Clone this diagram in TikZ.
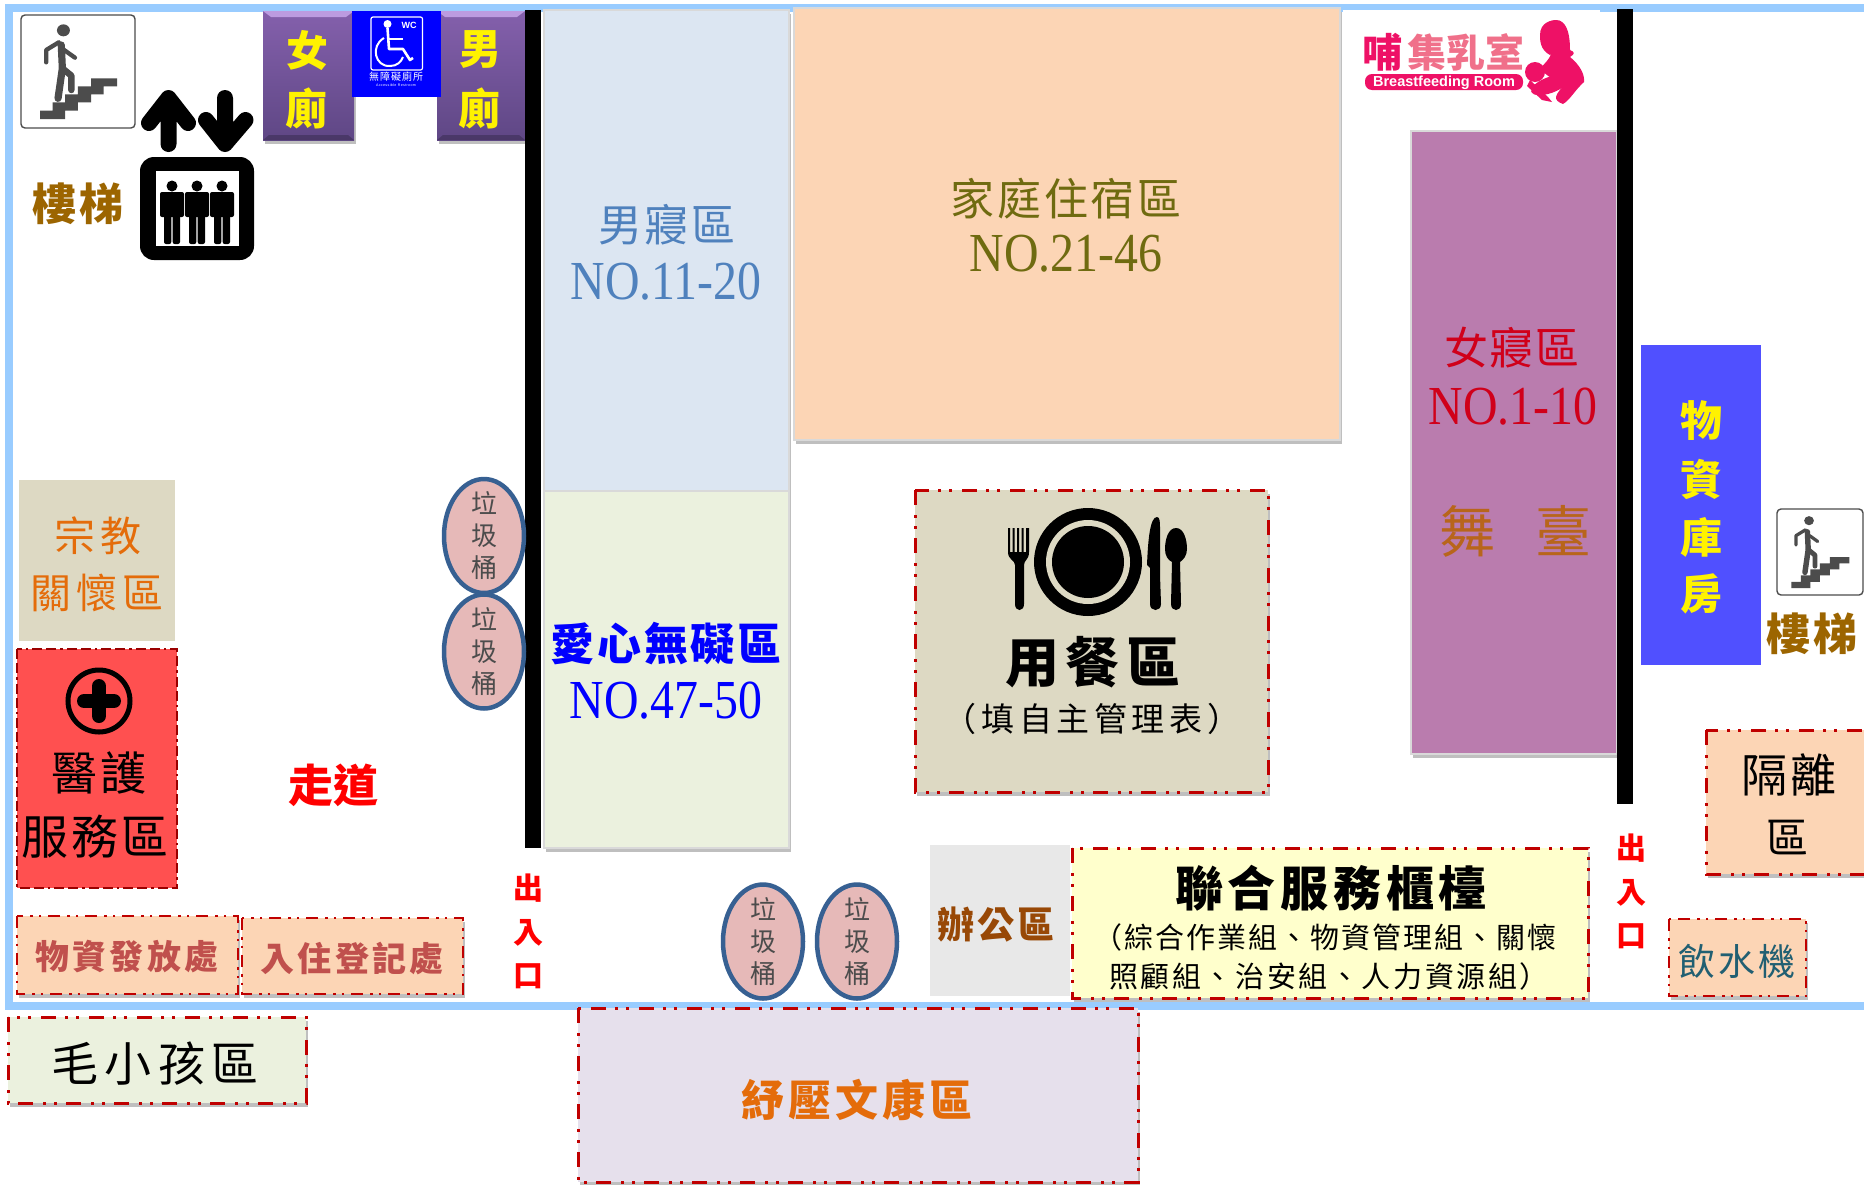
\documentclass[tikz,border=0pt]{standalone}
\usepackage{fontspec}
\usetikzlibrary{shadows,shapes.geometric}
\setmainfont{Noto Sans CJK TC}
\newfontfamily\narrowfont[FakeStretch=0.87]{Liberation Serif}
\newfontfamily\latinfont{Liberation Sans}
\newcommand{\fsz}[1]{\fontsize{#1}{#1}\selectfont}
\newcommand{\lsp}[1]{\addfontfeature{LetterSpace=#1}}
\definecolor{framec}{HTML}{99CCFF}
\definecolor{peach}{HTML}{FCD5B5}
\definecolor{tanc}{HTML}{DDD9C3}
\definecolor{pale}{HTML}{EBF1DE}
\definecolor{binfill}{HTML}{E6B9B8}
\definecolor{binline}{HTML}{376092}
\definecolor{dashred}{HTML}{C00000}
\definecolor{stairtxt}{HTML}{9C6500}
\definecolor{orangetxt}{HTML}{E46C0A}
\definecolor{pinkc}{HTML}{EE1166}
\definecolor{pinkl}{HTML}{F0708A}
\definecolor{purptop}{HTML}{8460AC}
\definecolor{purpbot}{HTML}{5F4785}
\definecolor{purplight}{HTML}{BC9BE0}
\definecolor{zoneb}{HTML}{DCE6F2}
\definecolor{dorm}{HTML}{BA7CAE}
\definecolor{stor}{HTML}{5050FF}
\definecolor{txblue}{HTML}{4F81BD}
\definecolor{olive2}{HTML}{6F6B10}
\definecolor{wred}{HTML}{D0001A}
\definecolor{stagec}{HTML}{B8651B}
\definecolor{medc}{HTML}{FF5050}
\definecolor{tred}{HTML}{C0504D}
\definecolor{lilac}{HTML}{E6E0EC}
\definecolor{offc}{HTML}{984806}
\definecolor{cream}{HTML}{FFFFCC}
\definecolor{tealc}{HTML}{215F72}
\tikzset{
  lab/.style={inner sep=0pt,outer sep=0pt,align=center},
  softshadow/.style={drop shadow={shadow xshift=1.5pt,shadow yshift=-3.5pt,opacity=.25,fill=black}},
  flat/.style={fill=#1,draw=white!85!black,line width=1.5pt,softshadow},
  dashbox/.style={fill=#1,draw=dashred,line width=3pt,softshadow,
    dash pattern=on 15pt off 10pt on 3pt off 8pt on 3pt off 9pt},
  dashsmall/.style={fill=#1,draw=dashred,line width=2.6pt,softshadow,
    dash pattern=on 12pt off 7pt on 2.5pt off 6pt on 2.5pt off 7pt},
  bin/.style={ellipse,draw=binline,fill=binfill,line width=4.5pt,minimum width=80pt,minimum height=114pt,
    inner xsep=0pt,inner ysep=-15pt,align=center,font=\fontsize{26}{32}\selectfont,text=black!70},
  wall/.style={fill=black,draw=none},
}
% stair pictogram: w,h are the outer sizes of the sign
\newcommand{\stairicon}[4]{%
\begin{scope}[shift={(#1,#2)},x=#3pt/317,y={-#4pt/339}]
\draw[rounded corners=4pt,fill=white,draw=black!70,line width=1.4pt] (0,0) rectangle (317,339);
\fill[black!70] (53,312)--(123,312)--(123,287)--(158,287)--(158,262)--(195,262)--(195,238)--(230,238)--(230,214)--(267,214)--(267,190)--(195,190)--(195,214)--(158,214)--(158,238)--(123,238)--(123,262)--(88,262)--(88,287)--(53,287)--cycle;
\fill[black!70] (118,46) ellipse [x radius=18,y radius=18];
\draw[black!70,line width=#3pt/317*20,line cap=round,line join=round] (112,90)--(115,160)--(103,250);
\draw[black!70,line width=#3pt/317*18,line cap=round,line join=round] (115,160)--(140,182)--(140,225);
\draw[black!70,line width=#3pt/317*12,line cap=round,line join=round] (105,82)--(70,105)--(70,142);
\draw[black!70,line width=#3pt/317*12,line cap=round,line join=round] (120,105)--(150,128);
\end{scope}}
\newcommand{\personicon}[1]{%
\fill (#1,186) circle (5.5);
\fill[rounded corners=2pt] (#1-12,192) rectangle (#1+12,217);
\fill[rounded corners=2pt] (#1-8,210) rectangle (#1-0.7,244);
\fill[rounded corners=2pt] (#1+0.7,210) rectangle (#1+8,244);}
\begin{document}
\begin{tikzpicture}[x=1pt,y=-1pt]
\useasboundingbox (0,0) rectangle (1864,1184);
\fill[white] (0,0) rectangle (1864,1184);
% outer frame
\fill[framec] (5,4) rectangle (1864,12);
\fill[framec] (5,4) rectangle (13,1010);
\fill[framec] (5,1002) rectangle (1864,1010);
% stairs, elevator
\stairicon{21}{15}{114}{113}
\stairicon{1777}{509}{86}{86}
\node[lab,text=stairtxt,font=\fsz{44}\bfseries\lsp{5}] (stairL) at (78,204) {樓梯};
\node[lab,text=stairtxt,font=\fsz{44}\bfseries\lsp{5}] (stairR) at (1812,634) {樓梯};
\draw[line width=16pt,line cap=round,line join=round] (168.5,144)--(168.5,98) (149,123)--(168.5,98)--(188,123);
\draw[line width=16pt,line cap=round,line join=round] (225,98)--(225,144) (206,120)--(225,144)--(245.5,120);
\fill[rounded corners=14pt] (140,157) rectangle (254,260);
\fill[white] (156,171) rectangle (238.5,246);
\personicon{172}\personicon{197}\personicon{222}
% toilets
\begin{scope}
\fill[top color=purptop,bottom color=purpbot,softshadow] (263,11) rectangle (354,140);
\fill[top color=purptop,bottom color=purpbot,softshadow] (437,11) rectangle (525,140);
\fill[purplight] (263,11)--(354,11)--(346,17)--(271,17)--cycle;
\fill[purplight] (437,11)--(525,11)--(517,17)--(445,17)--cycle;
\fill[black,opacity=.22] (263,140)--(354,140)--(348,135)--(269,135)--cycle;
\fill[black,opacity=.22] (437,140)--(525,140)--(519,135)--(443,135)--cycle;
\end{scope}
\fill[blue] (352,11) rectangle (441,97);
\draw[white,line width=1.2pt,rounded corners=2pt] (371,17) rectangle (422.5,70);
\fill[white] (387.5,24) circle (4);
\draw[white,line width=2.6pt,line join=round] (387.5,28)--(389,49)--(403,49)--(410,60)--(413,58);
\draw[white,line width=2pt] (389,39)--(403,39);
\draw[white,line width=2pt] (384,38) .. controls (370,46) and (375,67) .. (390,66) .. controls (397,66) and (401,62) .. (403,57);
\node[lab,text=white,font=\latinfont\fsz{9}\bfseries] (wcmark) at (409,25) {WC};
\node[lab,text=white,font=\fsz{10}\lsp{10}] (acc1) at (396,77) {無障礙廁所};
\node[lab,text=white,font=\latinfont\fsz{3.6}\lsp{10}] (acc2) at (396,85) {Accessible Restroom};
\node[lab,text=yellow,font=\fsz{42}\bfseries] (w1) at (307,50) {女};
\node[lab,text=yellow,font=\fsz{42}\bfseries] (w2) at (306,108) {廁};
\node[lab,text=yellow,font=\fsz{42}\bfseries] (m1) at (480,50) {男};
\node[lab,text=yellow,font=\fsz{42}\bfseries] (m2) at (479,108) {廁};
% main zones
\filldraw[flat=zoneb] (544,10) rectangle (789,491);
\filldraw[flat=pale] (544,491) rectangle (789,848);
\filldraw[flat=peach] (794,8) rectangle (1340,440);
\filldraw[flat=dorm] (1411,131) rectangle (1617,754);
\fill[wall] (525,10) rectangle (541,848);
\fill[wall] (1617,9) rectangle (1633,804);
\fill[stor] (1641,345) rectangle (1761,665);
% breastfeeding sign
\fill[white] (1343,10) rectangle (1600,112);
\node[lab,text=pinkc,font=\fsz{40}\bfseries] (bf0) at (1382,52) {哺};
\node[lab,text=pinkl,font=\fsz{39}\bfseries] (bf1) at (1466,52) {集乳室};
\fill[pinkc,rounded corners=7pt] (1365,74) rectangle (1523,90);
\node[lab,text=white,font=\latinfont\fsz{14.5}\bfseries] (bf2) at (1444,82.5) {Breastfeeding Room};
\fill[pinkc] (1540,35) .. controls (1540,22) and (1552,20) .. (1556,20) .. controls (1565,20) and (1570,30) .. (1570,50) .. controls (1575,52) and (1575,54) .. (1570,57) .. controls (1580,65) and (1585,75) .. (1584,82) .. controls (1575,90) and (1570,100) .. (1563,104) .. controls (1552,100) and (1555,95) .. (1565,84) .. controls (1555,80) and (1548,78) .. (1540,68) .. controls (1552,58) and (1552,50) .. (1550,55) .. controls (1540,50) and (1540,40) .. (1540,35) -- cycle;
\fill[pinkc] (1535,72) circle (10);
\fill[pinkc,rotate around={20:(1550,85)}] (1550,85) ellipse (20 and 8);
\fill[pinkc] (1530,80) -- (1548,97) -- (1552,102) -- (1542,100) -- (1527,86) -- cycle;
% zone labels
\node[lab,text=txblue,font=\fsz{44}\lsp{5}] (mt) at (667,225) {男寢區};
\node[lab,text=txblue,font=\narrowfont\fsz{55}] (mn) at (666,282) {NO.11-20};
\node[lab,text=olive2,font=\fsz{44}\lsp{6}] (ft) at (1066,199) {家庭住宿區};
\node[lab,text=olive2,font=\narrowfont\fsz{55}] (fn) at (1066,254) {NO.21-46};
\node[lab,text=wred,font=\fsz{44}\lsp{4}] (wt) at (1512,348) {女寢區};
\node[lab,text=wred,font=\narrowfont\fsz{55}] (wn) at (1513,407) {NO.1-10};
\node[lab,text=stagec,font=\fsz{56}] (s1) at (1467,531) {舞};
\node[lab,text=stagec,font=\fsz{56}] (s2) at (1563,531) {臺};
\node[lab,text=blue,font=\fsz{44}\bfseries\lsp{6}] (at) at (666,644) {愛心無礙區};
\node[lab,text=blue,font=\narrowfont\fsz{55}] (an) at (666,701) {NO.47-50};
\foreach \n/\t/\yy in {st1/物/421,st2/資/479,st3/庫/537,st4/房/594}{
  \node[lab,text=yellow,font=\fsz{42}\bfseries] (\n) at (1701,\yy) {\t};}
% left column
\fill[tanc] (19,480) rectangle (175,641);
\node[lab,text=orangetxt,font=\fsz{41}\lsp{12}] (r1) at (98,536) {宗教};
\node[lab,text=orangetxt,font=\fsz{41}\lsp{12}] (r2) at (97,593) {關懷區};
\filldraw[fill=medc,draw=dashred!80!black,line width=2.6pt,dash pattern=on 10pt off 4pt on 10pt off 4pt on 2.5pt off 4pt] (17,649) rectangle (177,888);
\draw[line width=5pt] (99,701) circle (31);
\draw[line width=14pt,line cap=round] (84,701)--(114,701) (99,686)--(99,716);
\node[lab,font=\fsz{46}\lsp{8}] (med1) at (99,773) {醫護};
\node[lab,font=\fsz{47}\lsp{6}] (med2) at (95,837) {服務區};
\node[lab,text=red,font=\fsz{45}\bfseries] (hall) at (333,785) {走道};
\filldraw[dashsmall=peach] (17,916) rectangle (238,994);
\filldraw[dashsmall=peach] (242,918) rectangle (463,994);
\node[lab,text=tred,font=\fsz{34}\bfseries\lsp{9}] (sup) at (127,957) {物資發放處};
\node[lab,text=tred,font=\fsz{34}\bfseries\lsp{9}] (reg) at (352,958) {入住登記處};
\filldraw[dashbox=pale] (8,1017) rectangle (306,1103);
\node[lab,font=\fsz{47}\lsp{14}] (pet) at (155,1064) {毛小孩區};
\filldraw[dashbox=lilac] (578,1008) rectangle (1138,1182);
\node[lab,text=orangetxt,font=\fsz{43}\bfseries\lsp{9}] (relax) at (857,1100) {紓壓文康區};
% bins
\node[bin] (bin1) at (484,536) {垃\\圾\\桶};
\node[bin] (bin2) at (484,651.5) {垃\\圾\\桶};
\node[bin] (bin3) at (763,941.5) {垃\\圾\\桶};
\node[bin] (bin4) at (857,941.5) {垃\\圾\\桶};
% dining
\filldraw[dashbox=tanc] (915,490) rectangle (1268,792);
\fill (1088,562) circle (54);
\fill[tanc] (1088,562) circle (42);
\fill (1088,562) circle (36);
\fill (1008,528) -- (1010,528) -- (1010,552) -- (1012.5,552) -- (1012.5,528) -- (1014.5,528) -- (1014.5,552) -- (1017,552) -- (1017,528) -- (1019,528) -- (1019,552) -- (1021.5,552) -- (1021.5,528) -- (1023.5,528) -- (1023.5,552) -- (1026,552) -- (1026,528) -- (1029,528) -- (1029,552) .. controls (1029,560) and (1024,560) .. (1024,565) -- (1024,604) .. controls (1024,612) and (1015,612) .. (1015,604) -- (1015,565) .. controls (1015,560) and (1008,560) .. (1008,552) -- cycle;
\fill (1160,575) -- (1161,604) .. controls (1161,612) and (1150,612) .. (1150,604) -- (1150,568) -- (1147,565) .. controls (1148,540) and (1150,517) .. (1157,517) .. controls (1160,517) and (1160,522) .. (1160,530) -- cycle;
\fill (1176,528) .. controls (1184,528) and (1187,540) .. (1187,549) .. controls (1187,556) and (1183,560) .. (1180,562) -- (1181,604) .. controls (1181,612) and (1171,612) .. (1171,604) -- (1172,562) .. controls (1168,560) and (1165,556) .. (1165,549) .. controls (1165,540) and (1168,528) .. (1176,528) -- cycle;
\node[lab,font=\fsz{54}\bfseries\lsp{12}] (din1) at (1093,662) {用餐區};
\node[lab,font=\fsz{33}\lsp{14}] (din2) at (1092,719) {（填自主管理表）};
% office and counter
\fill[black!9] (930,845) rectangle (1070,996);
\node[lab,text=offc,font=\fsz{37}\bfseries\lsp{8}] (off) at (996,925) {辦公區};
\filldraw[dashbox=cream] (1072,848) rectangle (1588,998);
\node[lab,font=\fsz{48}\bfseries\lsp{10}] (c1) at (1331,888) {聯合服務櫃檯};
\node[lab,font=\fsz{29}\lsp{7}] (c2) at (1325,937) {（綜合作業組、物資管理組、關懷};
\node[lab,font=\fsz{29}\lsp{9}] (c3) at (1329,976) {照顧組、治安組、人力資源組）};
% right column
\filldraw[dashbox=peach] (1706,730) rectangle (1880,874);
\node[lab,font=\fsz{46}\lsp{8}] (iso1) at (1789,775) {隔離};
\node[lab,font=\fsz{42}] (iso2) at (1787,838) {區};
\filldraw[dashsmall=peach] (1669,919) rectangle (1806,996);
\node[lab,text=tealc,font=\fsz{37}\lsp{8}] (water) at (1737,961) {飲水機};
% exits
\foreach \n/\t/\yy in {ea/出/888,eb/入/933,ec/口/976}{
  \node[lab,text=red,font=\fsz{30}\bfseries] (\n) at (528,\yy) {\t};}
\foreach \n/\t/\yy in {ed/出/848,ee/入/893,ef/口/936}{
  \node[lab,text=red,font=\fsz{30}\bfseries] (\n) at (1631,\yy) {\t};}
\end{tikzpicture}
\end{document}
